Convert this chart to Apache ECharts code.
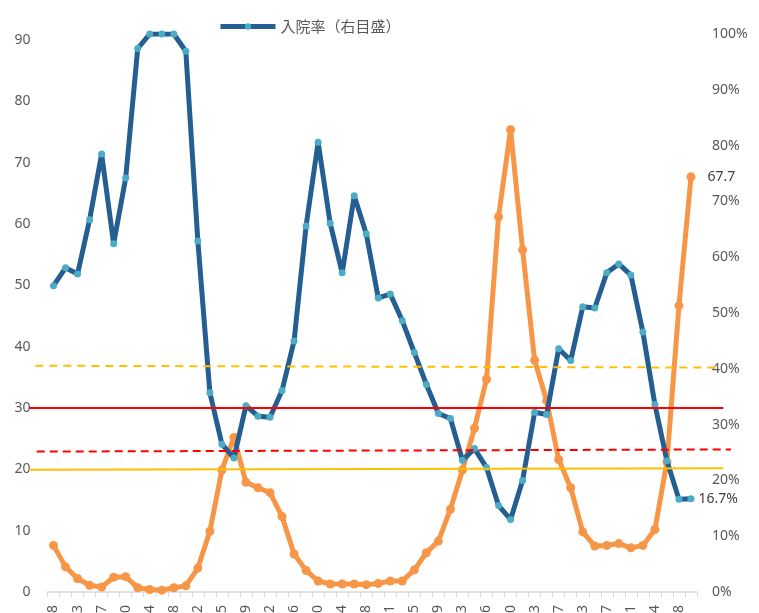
<!DOCTYPE html>
<html>
<head>
<meta charset="utf-8">
<script src="https://cdn.jsdelivr.net/npm/echarts@6/dist/echarts.min.js"></script>
<style>
html,body{margin:0;padding:0;background:#fff;}
#main{width:759px;height:613px;}
</style>
</head>
<body>
<div id="main"></div>
<script>
// ---- data ----
const categories = [
  '4/28','5/6','5/13','5/20','5/27','6/3','6/10','6/17','6/24','7/1',
  '7/8','7/15','7/22','7/29','8/5','8/12','8/19','8/26','9/2','9/9',
  '9/16','9/23','9/30','10/7','10/14','10/21','10/28','11/4','11/11','11/18',
  '11/25','12/2','12/9','12/16','12/23','12/30','1/6','1/13','1/20','1/27',
  '2/3','2/10','2/17','2/24','3/3','3/10','3/17','3/24','3/31','4/7',
  '4/14','4/21','4/28','5/5'
];
// orange: left axis
const reportCount = [
  7.6, 4.1, 2.2, 1.1, 0.8, 2.4, 2.5, 0.7, 0.4, 0.3,
  0.7, 1.0, 3.9, 9.9, 19.9, 25.2, 17.9, 17.0, 16.2, 12.3,
  6.2, 3.5, 1.8, 1.3, 1.3, 1.3, 1.2, 1.4, 1.8, 1.8,
  3.6, 6.4, 8.3, 13.5, 19.9, 26.7, 34.7, 61.2, 75.4, 55.8,
  37.8, 31.2, 21.6, 17.0, 9.8, 7.5, 7.6, 7.9, 7.2, 7.6,
  10.2, 21.2, 46.7, 67.7
];
// blue: hospitalization rate (%), right axis
const admissionRate = [
  54.9, 58.1, 57.0, 66.7, 78.5, 62.4, 74.2, 97.4, 100, 100,
  100, 96.9, 62.9, 35.7, 26.5, 24.0, 33.4, 31.5, 31.3, 36.1,
  45.0, 65.6, 80.6, 66.1, 57.2, 71.0, 64.2, 52.7, 53.4, 48.6,
  42.9, 37.2, 32.0, 31.1, 23.6, 25.7, 22.3, 15.5, 13.0, 20.0,
  32.2, 31.8, 43.6, 41.5, 51.1, 50.9, 57.2, 58.8, 56.8, 46.6,
  33.6, 23.5, 16.6, 16.7
];
// reference lines (left-axis values at start / end)
const redSolid = [30.0, 30.0];
const yellowSolid = [19.95, 20.2];
const redDashed = [22.9, 23.25];
const orangeDashed = [36.9, 36.6];

const legendName = '入院率（右目盛）';

const numFont = 'Noto Sans, Liberation Sans, sans-serif';
const chart = echarts.init(document.getElementById('main'), null, {renderer: 'canvas'});

function lastLabel(arr, fmt, dist) {
  return arr.map((v, i) => i === arr.length - 1
    ? {value: v, label: {show: true, position: 'right', distance: dist, formatter: fmt,
        color: '#404040', fontSize: 14, fontFamily: numFont}}
    : v);
}
function refLine(vals, x0, x1, color, type) {
  return {
    type: 'line', xAxisIndex: 1, yAxisIndex: 2, silent: true, z: 5,
    symbol: 'none', animation: false,
    data: [[x0, vals[0]], [x1, vals[1]]],
    lineStyle: {color: color, width: 2, type: type}
  };
}

const option = {
  animation: false,
  backgroundColor: '#ffffff',
  textStyle: {fontFamily: numFont},
  legend: {
    data: [legendName],
    left: 213, top: 14,
    itemWidth: 55, itemHeight: 8, itemGap: 5,
    lineStyle: {width: 5},
    textStyle: {color: '#595959', fontSize: 15, fontFamily: 'Noto Sans CJK JP, sans-serif'}
  },
  grid: [
    {left: 47.5, right: 62, top: 34, bottom: 21, containLabel: false, outerBoundsMode: 'none'},
    {left: 29, right: 28, top: 34, bottom: 21, containLabel: false, outerBoundsMode: 'none'}
  ],
  xAxis: [
    {
      type: 'category', gridIndex: 0, data: categories, boundaryGap: true,
      axisLine: {lineStyle: {color: '#d9d9d9', width: 1.5}},
      axisTick: {show: true, interval: 0, length: 5, lineStyle: {color: '#d9d9d9', width: 1}},
      axisLabel: {interval: 1, rotate: 90, color: '#595959', fontSize: 14, margin: 13, fontFamily: numFont},
      splitLine: {show: false}
    },
    {type: 'value', gridIndex: 1, min: 0, max: 100, show: false}
  ],
  yAxis: [
    {
      type: 'value', gridIndex: 0, position: 'left', min: 0, max: 91, interval: 10,
      axisLine: {show: false}, axisTick: {show: false}, splitLine: {show: false},
      axisLabel: {color: '#595959', fontSize: 14, margin: 17, showMaxLabel: false, fontFamily: numFont}
    },
    {
      type: 'value', gridIndex: 0, position: 'right', min: 0, max: 100, interval: 10,
      axisLine: {show: false}, axisTick: {show: false}, splitLine: {show: false},
      axisLabel: {color: '#595959', fontSize: 14, margin: 15, formatter: '{value}%', fontFamily: numFont}
    },
    {type: 'value', gridIndex: 1, min: 0, max: 91, show: false}
  ],
  series: [
    {
      name: '定点当たり報告数', type: 'line', xAxisIndex: 0, yAxisIndex: 0, z: 2,
      data: lastLabel(reportCount, '{c}', 12),
      symbol: 'circle', symbolSize: 9, showAllSymbol: true,
      lineStyle: {color: '#f79646', width: 5},
      itemStyle: {color: '#f79646'}
    },
    {
      name: legendName, type: 'line', xAxisIndex: 0, yAxisIndex: 1, z: 3,
      data: lastLabel(admissionRate, '{c}%', 4),
      symbol: 'circle', symbolSize: 7, showAllSymbol: true,
      lineStyle: {color: '#255e91', width: 5},
      itemStyle: {color: '#4bacc6'}
    },
    refLine(orangeDashed, 0.9, 98.4, '#ffc000', [8, 6]),
    refLine(redSolid, 0, 98.9, '#ff0000', 'solid'),
    refLine(redDashed, 1.1, 100, '#ff0000', [8, 5]),
    refLine(yellowSolid, 0, 98.9, '#ffc000', 'solid')
  ]
};
chart.setOption(option);
</script>
</body>
</html>
